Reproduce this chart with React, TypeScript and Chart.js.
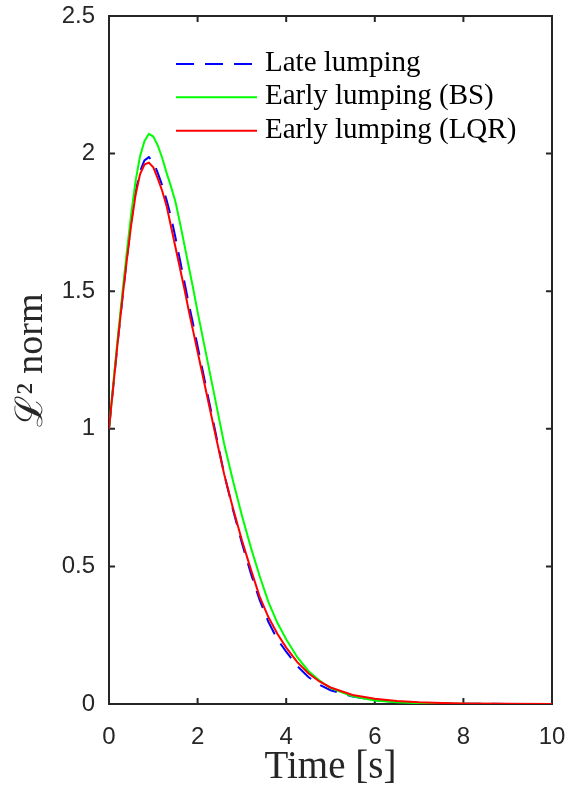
import React, { useEffect, useRef } from 'react';
import { Chart, registerables } from 'chart.js';

Chart.register(...registerables);

// ---- data ----
const timeS = [
  0, 0.1, 0.2, 0.3, 0.4, 0.5, 0.6, 0.7, 0.8, 0.9,
  1.0, 1.1, 1.2, 1.3, 1.4, 1.5, 1.6, 1.7, 1.8, 1.9,
  2.0, 2.2, 2.4, 2.6, 2.8, 3.0, 3.2, 3.4, 3.6, 3.8,
  4.0, 4.25, 4.5, 4.75, 5.0, 5.5, 6.0, 6.5, 7.0, 7.5,
  8.0, 9.0, 10.0,
];

const lateLumping = [
  1.0, 1.16, 1.32, 1.47, 1.615, 1.75, 1.86, 1.935, 1.975, 1.987,
  1.97, 1.93, 1.885, 1.831, 1.77, 1.695, 1.615, 1.535, 1.455, 1.38,
  1.3, 1.145, 0.99, 0.835, 0.705, 0.585, 0.475, 0.378, 0.298, 0.235,
  0.19, 0.138, 0.098, 0.07, 0.05, 0.027, 0.014, 0.007, 0.004, 0.002,
  0.001, 0.0003, 0.0001,
];

const earlyLumpingBS = [
  1.0, 1.17, 1.335, 1.49, 1.64, 1.78, 1.9, 1.99, 2.045, 2.072,
  2.062, 2.03, 1.985, 1.93, 1.88, 1.825, 1.75, 1.67, 1.59, 1.51,
  1.425, 1.265, 1.105, 0.945, 0.81, 0.685, 0.57, 0.465, 0.37, 0.295,
  0.235, 0.17, 0.12, 0.085, 0.058, 0.028, 0.013, 0.006, 0.003, 0.0015,
  0.001, 0.0003, 0.0001,
];

const earlyLumpingLQR = [
  1.0, 1.16, 1.32, 1.47, 1.61, 1.74, 1.85, 1.925, 1.96, 1.967,
  1.95, 1.91, 1.865, 1.81, 1.735, 1.66, 1.585, 1.51, 1.43, 1.355,
  1.28, 1.13, 0.98, 0.835, 0.71, 0.595, 0.49, 0.39, 0.315, 0.255,
  0.205, 0.152, 0.112, 0.082, 0.06, 0.033, 0.019, 0.011, 0.006, 0.0035,
  0.002, 0.0006, 0.0002,
];

const seriesLabels = ['Late lumping', 'Early lumping (BS)', 'Early lumping (LQR)'];
const xAxisTitle = 'Time [s]';
const yAxisTitle = 'ℒ² norm';

const AXIS_COLOR = '#262626';
const SANS = '"Liberation Sans", Arial, Helvetica, sans-serif';
const SERIF = '"Liberation Serif", "DejaVu Serif", "Times New Roman", serif';

const boxTicksPlugin = {
  id: 'boxTicks',
  beforeDatasetsDraw(chart: any) {
    const { ctx, chartArea: a, scales } = chart;
    const L = 6;
    ctx.save();
    ctx.strokeStyle = AXIS_COLOR;
    ctx.lineWidth = 2;
    ctx.beginPath();
    ctx.rect(a.left, a.top, a.right - a.left, a.bottom - a.top);
    scales.x.ticks.forEach((t: any) => {
      const px = scales.x.getPixelForValue(t.value);
      ctx.moveTo(px, a.bottom);
      ctx.lineTo(px, a.bottom - L);
      ctx.moveTo(px, a.top);
      ctx.lineTo(px, a.top + L);
    });
    scales.y.ticks.forEach((t: any) => {
      const py = scales.y.getPixelForValue(t.value);
      ctx.moveTo(a.left, py);
      ctx.lineTo(a.left + L, py);
      ctx.moveTo(a.right, py);
      ctx.lineTo(a.right - L, py);
    });
    ctx.stroke();
    ctx.restore();
  },
};

const legendPlugin = {
  id: 'insideLegend',
  afterDatasetsDraw(chart: any) {
    const { ctx, chartArea: a } = chart;
    const x0 = a.left + 67;
    const x1 = a.left + 148;
    const tx = a.left + 156;
    const rowY = [a.top + 48, a.top + 81.3, a.top + 114.7];
    ctx.save();
    chart.data.datasets.forEach((ds: any, i: number) => {
      const y = rowY[i];
      ctx.strokeStyle = ds.borderColor;
      ctx.lineWidth = ds.borderWidth;
      ctx.setLineDash(ds.borderDash || []);
      ctx.beginPath();
      ctx.moveTo(x0, y);
      ctx.lineTo(x1, y);
      ctx.stroke();
      ctx.setLineDash([]);
      ctx.fillStyle = '#000000';
      ctx.font = `29px ${SERIF}`;
      ctx.textBaseline = 'alphabetic';
      ctx.textAlign = 'left';
      ctx.fillText(ds.label, tx, y + 7);
    });
    ctx.restore();
  },
};

function toPoints(values: number[]) {
  return timeS.map((t, i) => ({ x: t, y: values[i] }));
}

export default function App() {
  const canvasRef = useRef<HTMLCanvasElement | null>(null);

  useEffect(() => {
    if (!canvasRef.current) return;
    const chart = new Chart(canvasRef.current, {
      type: 'line',
      data: {
        datasets: [
          {
            label: seriesLabels[0],
            data: toPoints(lateLumping),
            borderColor: '#0000FF',
            borderWidth: 2,
            borderDash: [18, 11],
            pointRadius: 0,
            fill: false,
            tension: 0,
            order: 2,
          },
          {
            label: seriesLabels[1],
            data: toPoints(earlyLumpingBS),
            borderColor: '#00FF00',
            borderWidth: 2,
            pointRadius: 0,
            fill: false,
            tension: 0,
            order: 1,
          },
          {
            label: seriesLabels[2],
            data: toPoints(earlyLumpingLQR),
            borderColor: '#FF0000',
            borderWidth: 2,
            pointRadius: 0,
            fill: false,
            tension: 0,
            order: 0,
          },
        ],
      },
      options: {
        responsive: false,
        animation: false,
        events: [],
        layout: { autoPadding: false, padding: { left: 0, right: 16, top: 16, bottom: 0 } },
        plugins: {
          legend: { display: false },
          tooltip: { enabled: false },
          title: { display: false },
        },
        scales: {
          x: {
            type: 'linear',
            min: 0,
            max: 10,
            ticks: {
              stepSize: 2,
              padding: 19,
              color: AXIS_COLOR,
              maxRotation: 0,
              font: { family: SANS, size: 24 },
              callback: (v: any) => String(v),
            },
            grid: { display: false, drawTicks: false },
            border: { display: false },
            title: {
              display: true,
              text: xAxisTitle,
              color: AXIS_COLOR,
              font: { family: SERIF, size: 39 },
              padding: { top: 0, bottom: 1 },
            },
            afterFit(scale: any) {
              scale.height = 88;
              scale.paddingLeft = 0;
              scale.paddingRight = 0;
              scale.paddingTop = 0;
              scale.paddingBottom = 0;
            },
          },
          y: {
            type: 'linear',
            min: 0,
            max: 2.5,
            ticks: {
              stepSize: 0.5,
              padding: 14,
              color: AXIS_COLOR,
              font: { family: SANS, size: 24 },
              callback: (v: any) => String(v),
            },
            grid: { display: false, drawTicks: false },
            border: { display: false },
            title: {
              display: true,
              text: yAxisTitle,
              color: AXIS_COLOR,
              font: { family: SERIF, size: 38 },
              padding: { top: 9, bottom: 0 },
            },
            afterFit(scale: any) {
              scale.width = 109;
              scale.paddingLeft = 0;
              scale.paddingRight = 0;
              scale.paddingTop = 0;
              scale.paddingBottom = 0;
            },
          },
        },
      },
      plugins: [boxTicksPlugin, legendPlugin],
    } as any);
    return () => chart.destroy();
  }, []);

  return (
    <div style={{ position: 'absolute', left: 0, top: 0, width: 568, height: 792, background: '#ffffff' }}>
      <canvas ref={canvasRef} width={568} height={792} style={{ width: 568, height: 792, display: 'block' }} />
    </div>
  );
}
